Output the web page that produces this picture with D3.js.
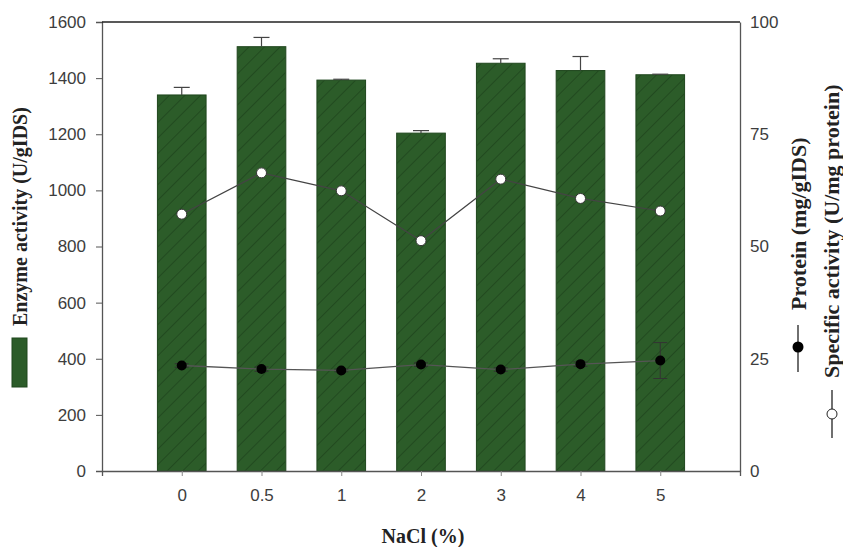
<!DOCTYPE html>
<html>
<head>
<meta charset="utf-8">
<script src="https://cdn.jsdelivr.net/npm/d3@7"></script>
<style>
  body { margin: 0; background: #fff; }
  svg { display: block; }
  .tick text { font-family: Arial, "Liberation Sans", sans-serif; font-size: 17px; fill: #3d3d3d; }
  .ttl { font-family: "Liberation Serif", "Times New Roman", serif; font-weight: bold; fill: #222; }
</style>
</head>
<body>
<div id="grafico"></div>
<script>
// dados
var nacl = ['0', '0.5', '1', '2', '3', '4', '5'];
var enzima = [1340, 1512, 1393, 1204, 1453, 1427, 1412];
var enzimaErro = [27, 33, 3, 9, 16, 50, 2];
var proteina = [23.5, 22.7, 22.4, 23.7, 22.6, 23.8, 24.6];
var proteinaErro = [0.4, 0.5, 0.3, 0.4, 0.4, 0.5, 4];
var especifica = [57.2, 66.4, 62.4, 51.3, 65.0, 60.7, 57.9];
var ticksEsq = [0, 200, 400, 600, 800, 1000, 1200, 1400, 1600];
var ticksDir = [0, 25, 50, 75, 100];

var W = 843, H = 547;
var margin = { top: 22, right: 103, bottom: 76, left: 102 },
    width = W - margin.left - margin.right,
    height = H - margin.top - margin.bottom;

var svg = d3.select("#grafico").append("svg").attr("width", W).attr("height", H);

var defs = svg.append("defs");
var pat = defs.append("pattern").attr("id", "hachura").attr("patternUnits", "userSpaceOnUse")
    .attr("width", 11).attr("height", 11).attr("patternTransform", "rotate(45)");
pat.append("rect").attr("width", 11).attr("height", 11).attr("fill", "#2c5c29");
pat.append("line").attr("x1", 0).attr("y1", 0).attr("x2", 0).attr("y2", 11)
    .attr("stroke", "#1b3e19").attr("stroke-width", 1.2);

var g = svg.append("g").attr("transform", "translate(" + margin.left + "," + margin.top + ")");

var x = d3.scalePoint().domain(nacl).range([0, width]).padding(1);
var barW = x.step() * 0.61;
var y = d3.scaleLinear().domain([0, 1600]).range([height, 0]);
var y2 = d3.scaleLinear().domain([0, 100]).range([height, 0]);

/* BARRAS */
g.selectAll("rect.bar").data(nacl).enter().append("rect").attr("class", "bar")
    .attr("x", function(d) { return x(d) - barW / 2; })
    .attr("y", function(d, i) { return y(enzima[i]); })
    .attr("width", barW)
    .attr("height", function(d, i) { return height - y(enzima[i]); })
    .attr("fill", "url(#hachura)")
    .attr("stroke", "#1f461d").attr("stroke-width", 1);

// barras de erro (só para cima)
var eb = g.selectAll("g.eb").data(nacl).enter().append("g").attr("class", "eb")
    .attr("stroke", "#444").attr("stroke-width", 1.2);
eb.append("line")
    .attr("x1", function(d) { return x(d); }).attr("x2", function(d) { return x(d); })
    .attr("y1", function(d, i) { return y(enzima[i]); })
    .attr("y2", function(d, i) { return y(enzima[i] + enzimaErro[i]); });
eb.append("line")
    .attr("x1", function(d) { return x(d) - 8; }).attr("x2", function(d) { return x(d) + 8; })
    .attr("y1", function(d, i) { return y(enzima[i] + enzimaErro[i]); })
    .attr("y2", function(d, i) { return y(enzima[i] + enzimaErro[i]); });

/* EIXOS */
var axE = g.append("g").call(d3.axisLeft(y).tickValues(ticksEsq).tickFormat(d3.format("d")).tickSize(6).tickPadding(10));
axE.select(".domain").attr("stroke", "#555").attr("stroke-width", 1.3);
axE.selectAll(".tick line").attr("stroke", "#555");

var axD = g.append("g").attr("transform", "translate(" + width + ",0)")
    .call(d3.axisRight(y2).tickValues(ticksDir).tickSize(0).tickPadding(10));
axD.select(".domain").attr("stroke", "#555").attr("stroke-width", 1.3);

var axX = g.append("g").attr("transform", "translate(0," + height + ")")
    .call(d3.axisBottom(x).tickSize(5).tickPadding(13));
axX.select(".domain").attr("stroke", "#555").attr("stroke-width", 1.3);
axX.selectAll(".tick line").attr("stroke", "#888");

g.append("line").attr("x1", 0).attr("x2", width).attr("y1", 0).attr("y2", 0)
    .attr("stroke", "#222").attr("stroke-width", 1.5);

/* LINHAS */
var linha = function(vals) {
    return d3.line().x(function(d) { return x(d); }).y(function(d, i) { return y2(vals[i]); })(nacl);
};
g.append("path").attr("d", linha(proteina)).attr("fill", "none").attr("stroke", "#555").attr("stroke-width", 1.3);
g.append("path").attr("d", linha(especifica)).attr("fill", "none").attr("stroke", "#444").attr("stroke-width", 1.2);

var pe = g.selectAll("g.pe").data(nacl).enter().append("g").attr("stroke", "#333").attr("stroke-width", 1);
pe.append("line")
    .attr("x1", function(d) { return x(d); }).attr("x2", function(d) { return x(d); })
    .attr("y1", function(d, i) { return y2(proteina[i] - proteinaErro[i]); })
    .attr("y2", function(d, i) { return y2(proteina[i] + proteinaErro[i]); });
[-1, 1].forEach(function(s) {
    pe.append("line")
        .attr("x1", function(d) { return x(d) - 7; }).attr("x2", function(d) { return x(d) + 7; })
        .attr("y1", function(d, i) { return y2(proteina[i] + s * proteinaErro[i]); })
        .attr("y2", function(d, i) { return y2(proteina[i] + s * proteinaErro[i]); });
});

g.selectAll("circle.prot").data(nacl).enter().append("circle")
    .attr("cx", function(d) { return x(d); })
    .attr("cy", function(d, i) { return y2(proteina[i]); })
    .attr("r", 5).attr("fill", "#000");

g.selectAll("circle.esp").data(nacl).enter().append("circle")
    .attr("cx", function(d) { return x(d); })
    .attr("cy", function(d, i) { return y2(especifica[i]); })
    .attr("r", 5).attr("fill", "#fff").attr("stroke", "#333").attr("stroke-width", 1);

/* TÍTULOS E LEGENDAS */
svg.append("text").attr("class", "ttl").attr("transform", "translate(27,326) rotate(-90)")
    .attr("text-anchor", "start").style("font-size", "20px").text("Enzyme activity (U/gIDS)");
svg.append("rect").attr("x", 12).attr("y", 338).attr("width", 15).attr("height", 49)
    .attr("fill", "#2c5c29").attr("stroke", "#1f461d");

svg.append("text").attr("class", "ttl").attr("transform", "translate(806,310) rotate(-90)")
    .attr("text-anchor", "start").style("font-size", "22px").text("Protein (mg/gIDS)");
svg.append("line").attr("x1", 798).attr("x2", 798).attr("y1", 325).attr("y2", 372).attr("stroke", "#222").attr("stroke-width", 1.3);
svg.append("circle").attr("cx", 798).attr("cy", 347).attr("r", 5.5).attr("fill", "#000");

svg.append("text").attr("class", "ttl").attr("transform", "translate(839,378) rotate(-90)")
    .attr("text-anchor", "start").style("font-size", "22px").text("Specific activity (U/mg protein)");
svg.append("line").attr("x1", 832).attr("x2", 832).attr("y1", 390).attr("y2", 438).attr("stroke", "#222").attr("stroke-width", 1.3);
svg.append("circle").attr("cx", 832).attr("cy", 414).attr("r", 5).attr("fill", "#fff").attr("stroke", "#222");

svg.append("text").attr("class", "ttl").attr("x", 423).attr("y", 543)
    .attr("text-anchor", "middle").style("font-size", "20px").text("NaCl (%)");
</script>
</body>
</html>
